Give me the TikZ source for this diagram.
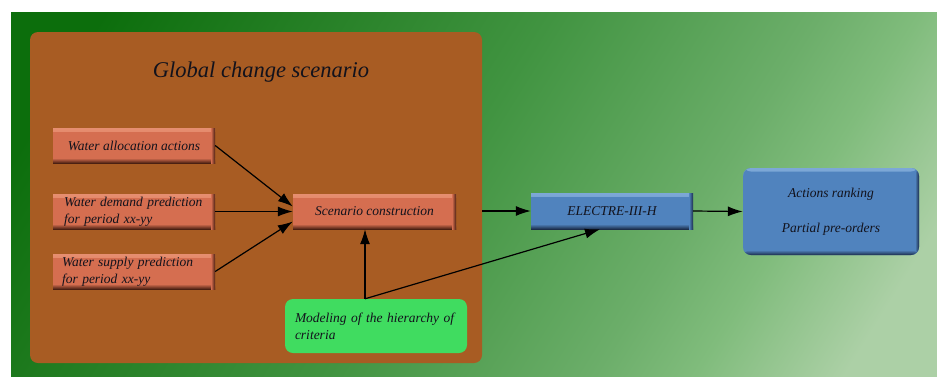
\documentclass[tikz,border=0pt]{standalone}
\usepackage{fontspec}
\setmainfont{Liberation Serif}
\usetikzlibrary{arrows.meta,calc}

\definecolor{bgA}{RGB}{12,110,12}
\definecolor{bgB}{RGB}{30,122,30}
\definecolor{bgC}{RGB}{65,148,65}
\definecolor{bgD}{RGB}{108,174,106}
\definecolor{bgE}{RGB}{128,188,124}
\definecolor{bgF}{RGB}{172,208,166}
\definecolor{panelbrown}{RGB}{168,92,35}
\definecolor{salmon}{RGB}{213,110,80}
\definecolor{salmonhi}{RGB}{230,142,112}
\definecolor{salmondk}{RGB}{75,32,18}
\definecolor{steel}{RGB}{80,131,190}
\definecolor{steelhi}{RGB}{125,168,215}
\definecolor{steeldk}{RGB}{28,45,75}
\definecolor{mint}{RGB}{64,220,96}
\definecolor{ink}{RGB}{18,18,28}

% diagonal backdrop gradient
\pgfdeclarehorizontalshading{backdrop}{100bp}{%
  color(0bp)=(bgA); color(21bp)=(bgA); color(30bp)=(bgB); color(48bp)=(bgC);
  color(64bp)=(bgD); color(70bp)=(bgE); color(79bp)=(bgF); color(100bp)=(bgF)}

\tikzset{
  bevel/.style n args={3}{fill=#1, draw=none, path picture={
    \shade[top color=#2, bottom color=#1]
      (path picture bounding box.north west) rectangle ([yshift=-3.5pt]path picture bounding box.north east);
    \shade[top color=#1, bottom color=#3]
      ([yshift=5pt]path picture bounding box.south west) rectangle (path picture bounding box.south east);
    \shade[left color=#1, right color=#3]
      ([xshift=-4pt]path picture bounding box.north east) rectangle (path picture bounding box.south east);
  }},
  boxtext/.style={font=\itshape\fontsize{13.5}{17}\selectfont, text=ink},
  inputbox/.style={bevel={salmon}{salmonhi}{salmondk}, boxtext, minimum width=162pt, minimum height=35pt, inner sep=0pt},
  methodbox/.style={bevel={steel}{steelhi}{steeldk}, boxtext, minimum width=162pt, minimum height=36pt, inner sep=0pt},
  resultbox/.style={bevel={steel}{steelhi}{steeldk}, boxtext, rounded corners=8pt, minimum width=176pt, minimum height=87pt, inner sep=0pt, align=center},
  criteriabox/.style={fill=mint, boxtext, rounded corners=8pt, minimum width=182pt, minimum height=54pt, inner sep=0pt, text width=162pt, align=left},
  panelbox/.style={fill=panelbrown, rounded corners=8pt, minimum width=452pt, minimum height=331pt, inner sep=0pt},
  arr/.style={draw=black, line width=1.2pt, -{Latex[length=15pt,width=10pt]}}
}

\begin{document}
\begin{tikzpicture}[x=1pt,y=-1pt]
\useasboundingbox (0,0) rectangle (937,376);
\shade[shading=backdrop, shading angle=-32] (11,12) rectangle (937,376);

% global change scenario group
\node[panelbox] (panel) at (256,197.5) {};
\node[font=\itshape\fontsize{22.5}{26}\selectfont, text=ink] (title) at (261,72) {Global change scenario};

% inputs
\node[inputbox] (alloc) at (134,145.5) {Water allocation actions};
\node[inputbox, text width=140pt, align=left] (demand) at (134,211.5) {Water demand prediction\\for period xx-yy};
\node[inputbox, text width=144pt, align=left] (supply) at (134,271.5) {Water supply prediction\\for period xx-yy};
\node[inputbox, minimum width=163pt] (scen) at (374.5,211.5) {Scenario construction};
\node[criteriabox] (model) at (376,326) {Modeling of the hierarchy of\\criteria};

% method and results
\node[methodbox] (elec) at (612,211) {ELECTRE-III-H};
\node[resultbox] (rank) at (831,211.5) {Actions ranking\\[18pt]Partial pre-orders};

% connectors
\draw[arr] (alloc.east) -- ([yshift=5pt]scen.west);
\draw[arr] (demand.east) -- (scen.west);
\draw[arr] (supply.east) -- ([yshift=-10pt]scen.west);
\coordinate (mtop) at ([xshift=-11pt]model.north);
\draw[arr] (mtop) -- (mtop |- scen.south);
\draw[arr] (mtop) -- ([xshift=-12pt]elec.south);
\draw[arr] (panel.east |- elec.west) -- (elec.west);
\draw[arr] (elec.east) -- (rank.west);
\end{tikzpicture}
\end{document}
